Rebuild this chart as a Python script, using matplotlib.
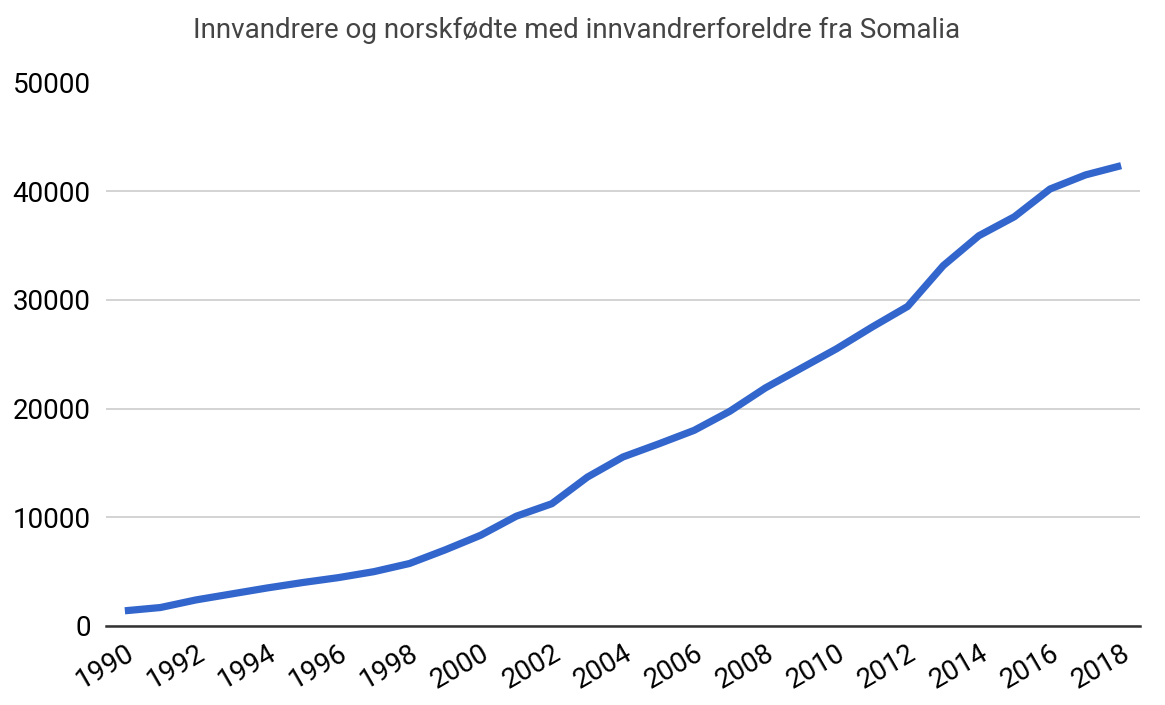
import matplotlib
matplotlib.use("Agg")
import matplotlib.pyplot as plt
from matplotlib.transforms import ScaledTranslation

plt.rcParams['font.family'] = ['Roboto', 'DejaVu Sans']

years = list(range(1990, 2019))
values = [1400, 1700, 2400, 2950, 3500, 4000, 4450, 5000, 5750, 7000,
          8350, 10100, 11250, 13700, 15550, 16750, 18000, 19750, 21900, 23700,
          25500, 27500, 29400, 33150, 35900, 37650, 40200, 41500, 42350]
x_ticks = list(range(1990, 2019, 2))
y_ticks = [0, 10000, 20000, 30000, 40000, 50000]
title = "Innvandrere og norskfødte med innvandrerforeldre fra Somalia"

fig = plt.figure(figsize=(11.65, 7.05), dpi=100)
ax = fig.add_axes([106/1165, 1 - 626/705, (1140 - 106)/1165, (626 - 82.5)/705])

ax.plot(years, values, color='#3366cc', linewidth=5.2, solid_capstyle='butt', zorder=3)

ax.set_xlim(1989.47, 2018.53)
ax.set_ylim(0, 50000)
ax.set_yticks(y_ticks)
ax.set_yticklabels([str(v) for v in y_ticks])
ax.set_xticks(x_ticks)
ax.set_xticklabels([str(v) for v in x_ticks], rotation=30, ha='right', va='top',
                   rotation_mode='anchor')
offset = ScaledTranslation(14/100, 0, fig.dpi_scale_trans)
for lab in ax.get_xticklabels():
    lab.set_transform(lab.get_transform() + offset)

ax.grid(axis='y', color='#cccccc', linewidth=1.2)
ax.set_axisbelow(True)
for s in ['top', 'right', 'left']:
    ax.spines[s].set_visible(False)
ax.spines['bottom'].set_color('#333333')
ax.spines['bottom'].set_linewidth(1.8)
ax.spines['bottom'].set_zorder(4)
ax.tick_params(axis='both', length=0, labelsize=20, colors='#000000')
ax.tick_params(axis='y', pad=11)
ax.tick_params(axis='x', pad=10)

fig.text(0.495, 0.957, title, ha='center', va='center', fontsize=20, color='#444444')

fig.savefig('out.png', dpi=100)
